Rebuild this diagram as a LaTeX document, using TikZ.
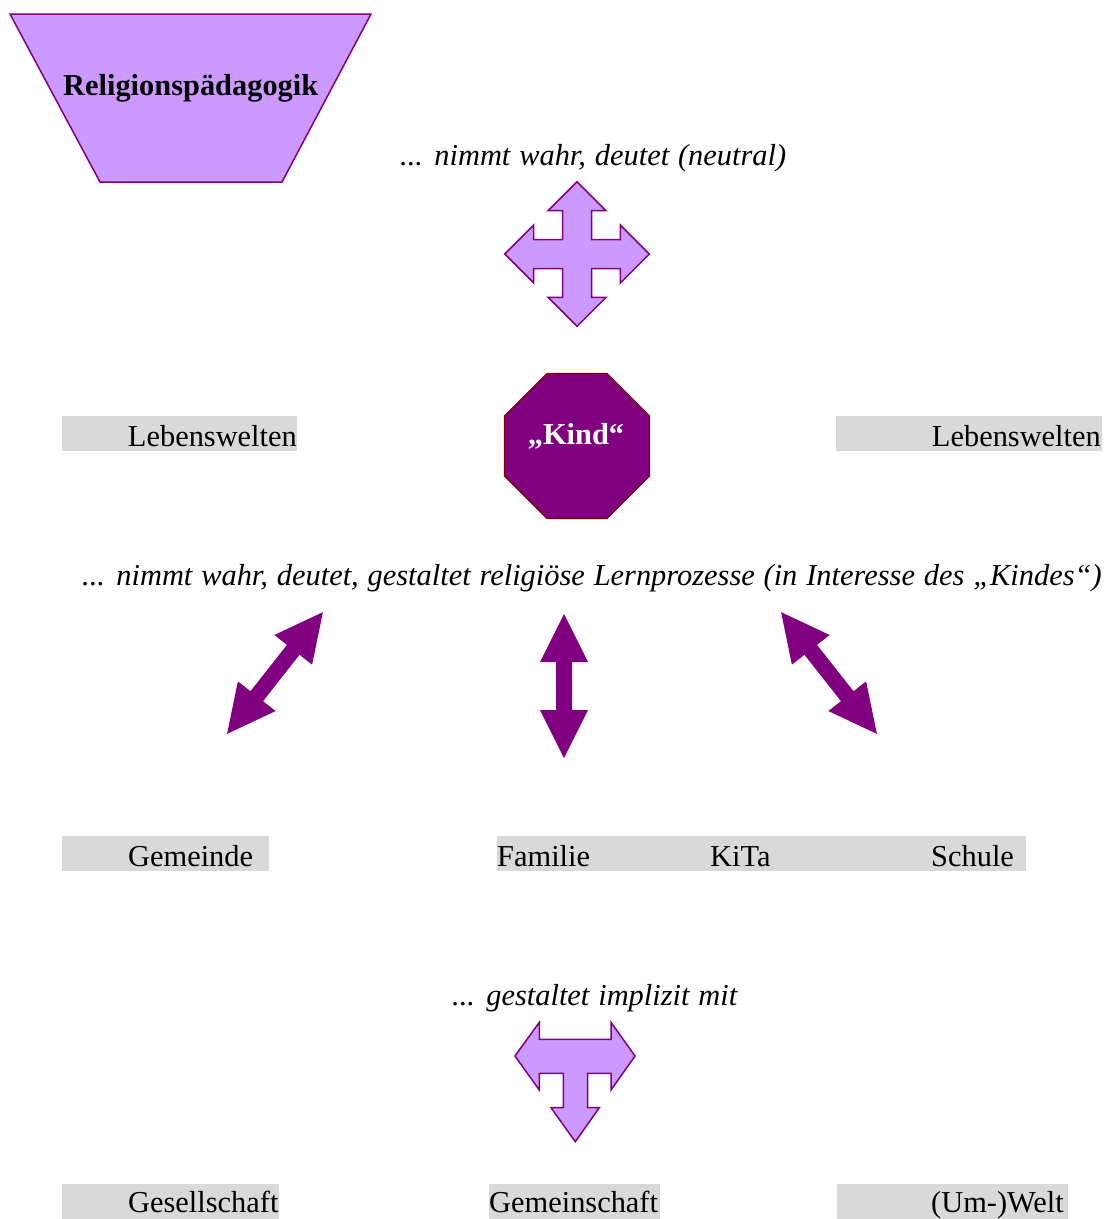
\documentclass[tikz,border=0pt]{standalone}
\usepackage{fontspec}
\setmainfont{Liberation Serif}[ItalicFeatures={WordSpace=1.17}]
\usetikzlibrary{shapes.geometric}

\definecolor{lilac}{HTML}{CC99FF}
\definecolor{plum}{HTML}{800080}
\definecolor{maroon}{HTML}{800000}
\definecolor{hlgray}{HTML}{D9D9D9}

\tikzset{
  txt/.style={inner sep=0pt, font=\fontsize{30.4}{36}\selectfont},
  itxt/.style={txt, font=\fontsize{30.4}{36}\selectfont\itshape},
  btxt/.style={txt, font=\fontsize{30.4}{36}\selectfont\bfseries},
  hl/.style={fill=hlgray},
  lightshape/.style={fill=lilac, draw=plum, line width=1.5pt, line join=miter},
  octa/.style={regular polygon, regular polygon sides=8, minimum size=157pt,
    inner sep=0pt, fill=plum, draw=maroon, line width=1.2pt},
  pics/dblarrow/.style={code={
    \fill[plum] (-#1,0) -- ({-#1+48},24) -- ({-#1+48},8) -- ({#1-48},8)
      -- ({#1-48},24) -- (#1,0) -- ({#1-48},-24) -- ({#1-48},-8)
      -- ({-#1+48},-8) -- ({-#1+48},-24) -- cycle;
  }}
}

\begin{document}
\begin{tikzpicture}[x=1pt, y=-1pt]
\useasboundingbox (0,0) rectangle (1107,1219);

% header trapezoid
\draw[lightshape] (10,14) -- (371,14) -- (282,182) -- (100,182) -- cycle;
\node[btxt, anchor=base west] (rp) at (63,95) {Religionspädagogik};

% first statement and four-way arrow
\node[itxt, anchor=base west] (s1) at (400,165) {... nimmt wahr, deutet (neutral)};
\begin{scope}[shift={(577,254)}]
  \def\T{72.3}\def\H{43.3}\def\W{29}\def\S{14.5}
  \draw[lightshape] (0,-\T) -- (\W,-\H) -- (\S,-\H) -- (\S,-\S) -- (\H,-\S) -- (\H,-\W)
    -- (\T,0) -- (\H,\W) -- (\H,\S) -- (\S,\S) -- (\S,\H) -- (\W,\H)
    -- (0,\T) -- (-\W,\H) -- (-\S,\H) -- (-\S,\S) -- (-\H,\S) -- (-\H,\W)
    -- (-\T,0) -- (-\H,-\W) -- (-\H,-\S) -- (-\S,-\S) -- (-\S,-\H) -- (-\W,-\H) -- cycle;
\end{scope}

% life worlds and the child
\fill[hl] (62,416) rectangle (297,451);
\node[txt, anchor=base east] (lwl) at (297,446) {Lebenswelten};
\fill[hl] (836,416) rectangle (1102,451);
\node[txt, anchor=base east] (lwr) at (1101,446) {Lebenswelten};
\node[octa] (kind) at (577,446) {};
\node[btxt, text=white, anchor=base] (kindtxt) at (576,444) {„Kind“};

% second statement
\node[itxt, anchor=base west] (s2) at (82,585)
  {... nimmt wahr, deutet, gestaltet religiöse Lernprozesse (in Interesse des „Kindes“)};

% double arrows
\pic at (275,673) [rotate=51.8] {dblarrow=77.5};
\pic at (564,686) [rotate=90] {dblarrow=72};
\pic at (829,673) [rotate=128.2] {dblarrow=77.5};

% places of learning
\fill[hl] (62,836) rectangle (269,871);
\node[txt, anchor=base west] (gem) at (128,866) {Gemeinde};
\fill[hl] (497,836) rectangle (1026,871);
\node[txt, anchor=base west] (fam) at (497,866) {Familie};
\node[txt, anchor=base west] (kita) at (710,866) {KiTa};
\node[txt, anchor=base west] (sch) at (931,866) {Schule};

% third statement and T-arrow
\node[itxt, anchor=base west] (s3) at (452,1005) {... gestaltet implizit mit};
\draw[lightshape] (515,1056) -- (539.3,1022.3) -- (539.3,1039.3) -- (611,1039.3)
  -- (611,1022.3) -- (635,1056) -- (611,1090) -- (611,1073.3) -- (587.7,1073.3)
  -- (587.7,1107.7) -- (599.3,1107.7) -- (575.3,1141.7) -- (551,1107.7)
  -- (563.3,1107.7) -- (563.3,1073.3) -- (539.3,1073.3) -- (539.3,1090) -- cycle;

% wider context
\fill[hl] (62,1184) rectangle (279,1219);
\node[txt, anchor=base west] (ges) at (128,1212) {Gesellschaft};
\fill[hl] (489,1184) rectangle (660,1219);
\node[txt, anchor=base west] (gms) at (489,1212) {Gemeinschaft};
\fill[hl] (837,1184) rectangle (1068,1219);
\node[txt, anchor=base west] (welt) at (931,1212) {(Um-)Welt};
\end{tikzpicture}
\end{document}
